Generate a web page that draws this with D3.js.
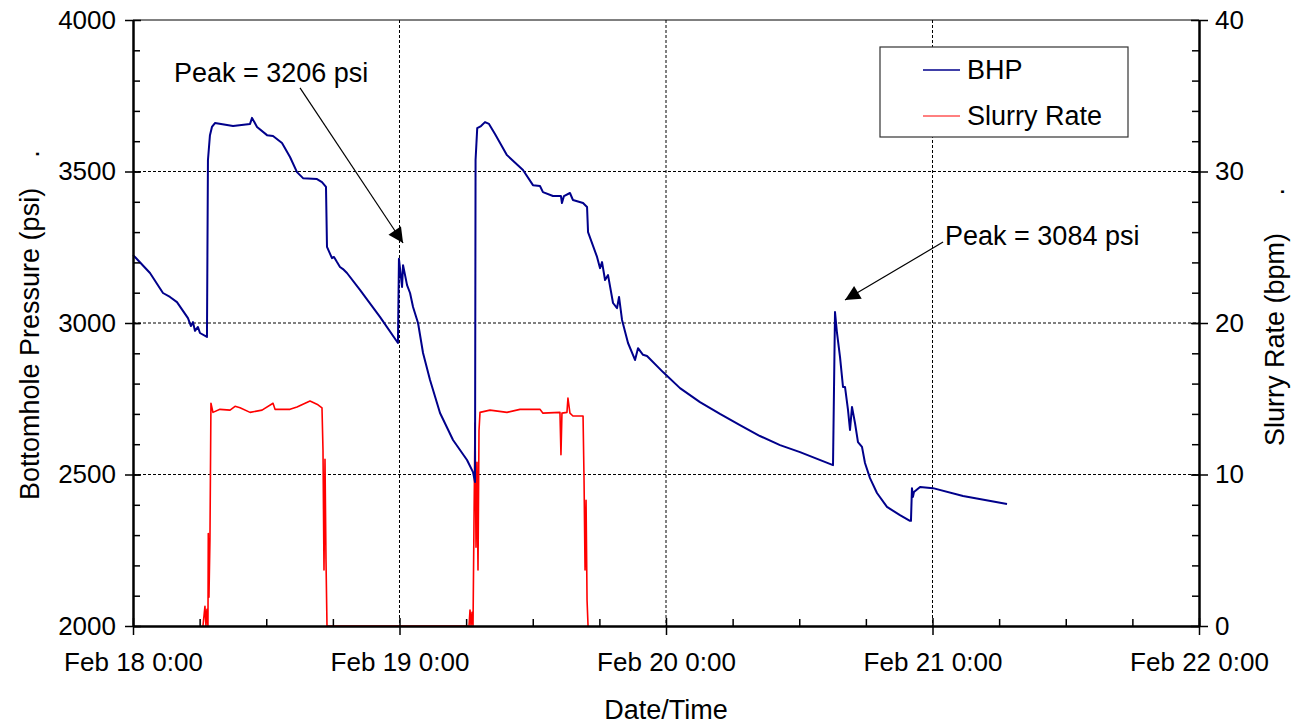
<!DOCTYPE html>
<html lang="en">

<head>
    <meta charset="utf-8" />
    <title>BHP and Slurry Rate</title>
    <script src="https://d3js.org/d3.v7.min.js"></script>
    <style>
        body {
            margin: 0;
            background: #fff;
        }

        text {
            font-family: "Liberation Sans", Arial, sans-serif;
            fill: #000;
        }

        .axis text {
            font-size: 26px;
        }

        .axis path,
        .axis line {
            stroke: #000;
        }

        .grid line {
            stroke: #000;
            stroke-width: 1;
            stroke-dasharray: 3, 2;
        }
    </style>
</head>

<body>
    <script>
        // ---- data (hours after Feb 18 0:00) ----
        const bhpHours = [0.00, 0.18, 1.53, 2.70, 3.33, 3.96, 4.95, 5.22, 5.40, 5.58, 5.85, 6.03, 6.66,
            6.75, 6.93, 7.11, 7.38, 9.01, 10.54, 10.72, 11.17, 12.07, 12.61, 13.42, 14.14, 14.77, 15.31,
            16.57, 17.02, 17.38, 17.47, 17.92, 18.10, 18.37, 18.64, 18.91, 19.27, 20.44, 22.24, 23.86,
            23.95, 24.23, 24.32, 24.68, 24.95, 25.22, 25.67, 26.12, 26.75, 27.65, 28.82, 30.08, 30.62,
            30.80, 30.85, 31.00, 31.34, 31.70, 32.06, 32.60, 33.68, 35.12, 36.02, 36.65, 36.92, 37.82,
            38.54, 38.63, 38.81, 39.35, 39.62, 40.53, 40.89, 40.98, 41.79, 42.06, 42.24, 42.51, 42.78,
            43.23, 43.59, 43.77, 44.04, 44.58, 45.21, 45.48, 45.93, 46.29, 47.73, 49.26, 51.06, 52.86,
            54.66, 56.46, 58.27, 60.07, 63.04, 63.22, 63.40, 63.67, 63.94, 64.12, 64.39, 64.57, 64.75,
            65.02, 65.29, 65.65, 65.92, 66.37, 67.00, 67.90, 69.07, 69.97, 70.06, 70.15, 70.24, 70.33,
            70.88, 72.04, 74.75, 78.71];
        const bhpValues = [3224, 3218, 3165, 3099, 3086, 3069, 3016, 2990, 3003, 2974, 2987, 2967, 2954,
            3538, 3620, 3647, 3660, 3650, 3657, 3677, 3647, 3620, 3617, 3594, 3548, 3498, 3478,
            3475, 3465, 3449, 3251, 3214, 3218, 3201, 3185, 3178, 3165, 3109, 3020, 2934,
            3212, 3119, 3191, 3125, 3099, 3053, 3000, 2901, 2812, 2703, 2614, 2548, 2508,
            2475, 3538, 3643, 3650, 3663, 3657, 3624, 3554, 3505, 3455, 3452, 3432, 3419,
            3419, 3396, 3419, 3429, 3406, 3396, 3383, 3300, 3218, 3181, 3201, 3142, 3158,
            3066, 3049, 3086, 3010, 2934, 2878, 2917, 2895, 2891, 2838, 2785, 2739, 2700,
            2663, 2627, 2597, 2574, 2531, 3036, 2967, 2888, 2789, 2789, 2713, 2647, 2723,
            2670, 2607, 2591, 2538, 2488, 2439, 2393, 2366, 2347, 2347, 2455, 2426, 2442,
            2459, 2455, 2429, 2403];

        const rateHours = [6.30, 6.48, 6.57, 6.66, 6.75, 6.78, 6.84, 6.93, 7.02, 7.20, 7.83, 8.74, 9.19,
            9.64, 10.54, 11.62, 12.61, 12.79, 14.14, 14.77, 15.94, 16.66, 17.02, 17.11, 17.20, 17.29,
            17.38, 17.47, 30.26, 30.35, 30.44, 30.53, 30.62, 30.71, 30.80, 30.89, 30.98, 31.07, 31.16,
            31.25, 32.15, 33.68, 34.85, 36.65, 36.92, 38.45, 38.54, 38.63, 39.08, 39.17, 39.35, 39.62,
            40.53, 40.62, 40.71, 40.80, 40.89, 40.98];
        const rateValues = [0, 1.3, 0, 1.1, 0, 6.1, 1.9, 5.7, 14.7, 14.1, 14.3, 14.25, 14.5,
            14.4, 14.1, 14.25, 14.7, 14.3, 14.3, 14.45, 14.85, 14.6, 14.4, 11.6, 3.7, 11.0,
            4.4, 0, 0, 1.05, 0, 0.9, 0, 7.0, 13.4, 5.2, 10.8, 3.7, 12.9,
            14.1, 14.25, 14.1, 14.3, 14.3, 14.05, 14.1, 11.3, 14.05, 14.1, 15.05, 14.05, 13.86,
            13.86, 9.6, 3.7, 8.3, 1.7, 0];

        const startDate = new Date(Date.UTC(2003, 1, 18, 0, 0));
        const endDate = new Date(Date.UTC(2003, 1, 22, 0, 0));
        const pressureTicks = [2000, 2500, 3000, 3500, 4000];
        const rateTicks = [0, 10, 20, 30, 40];
        const seriesNames = ["BHP", "Slurry Rate"];
        const seriesColors = ["#00008b", "#ff0000"];
        // annotation: text anchor, arrow tail and arrow tip, in hours / psi
        const notes = [
            { label: "Peak = 3206 psi", text: [3.69, 3795], tail: [15.04, 3776], tip: [24.32, 3264] },
            { label: "Peak = 3084 psi", text: [73.13, 3257], tail: [72.95, 3267], tip: [64.12, 3076] }
        ];

        // ---- layout ----
        const W = 1297, H = 728;
        const margin = { top: 20, right: 98, bottom: 102, left: 133 };
        const width = W - margin.left - margin.right;
        const height = H - margin.top - margin.bottom;

        const svg = d3.select("body").append("svg").attr("width", W).attr("height", H);
        const g = svg.append("g").attr("transform", `translate(${margin.left},${margin.top})`);

        const toDate = (h) => new Date(startDate.getTime() + h * 3600e3);
        const bhp = bhpHours.map((h, i) => ({ t: toDate(h), v: bhpValues[i] }));
        const rate = rateHours.map((h, i) => ({ t: toDate(h), v: rateValues[i] }));

        const x = d3.scaleUtc().domain([startDate, endDate]).range([0, width]);
        const yP = d3.scaleLinear().domain([2000, 4000]).range([height, 0]);
        const yR = d3.scaleLinear().domain([0, 40]).range([height, 0]);

        const dayTicks = d3.utcDay.range(startDate, d3.utcDay.offset(endDate, 1));
        const quarterTicks = d3.utcHour.every(6).range(startDate, endDate).filter((d) => d.getUTCHours() !== 0);
        const fmt = d3.utcFormat("%b %-d %-H:%M");

        // grid
        const grid = g.append("g").attr("class", "grid");
        grid.selectAll("line.h").data(pressureTicks.slice(1, -1)).join("line")
            .attr("x1", 0).attr("x2", width).attr("y1", (d) => yP(d)).attr("y2", (d) => yP(d));
        grid.selectAll("line.v").data(dayTicks.slice(1, -1)).join("line").attr("class", "v")
            .attr("y1", 0).attr("y2", height).attr("x1", (d) => x(d)).attr("x2", (d) => x(d));

        // top frame line
        g.append("line").attr("x1", 0).attr("x2", width).attr("y1", 0).attr("y2", 0)
            .attr("stroke", "#000").attr("stroke-width", 1);

        // series
        const lineP = d3.line().x((d) => x(d.t)).y((d) => yP(d.v));
        const lineR = d3.line().x((d) => x(d.t)).y((d) => yR(d.v));
        g.append("path").datum(rate).attr("d", lineR).attr("fill", "none")
            .attr("stroke", seriesColors[1]).attr("stroke-width", 1.6).attr("stroke-linejoin", "round");
        g.append("path").datum(bhp).attr("d", lineP).attr("fill", "none")
            .attr("stroke", seriesColors[0]).attr("stroke-width", 2).attr("stroke-linejoin", "round");

        // axes: outer labelled ticks, inner ticks, minor ticks
        function styleAxis(sel, w) {
            sel.selectAll("path").attr("stroke-width", w);
            sel.selectAll("line").attr("stroke-width", 1.5);
        }
        const gxl = g.append("g").attr("class", "axis").attr("transform", `translate(0,${height})`)
            .call(d3.axisBottom(x).tickValues(dayTicks).tickFormat(fmt).tickSize(9).tickSizeOuter(0).tickPadding(18));
        styleAxis(gxl, 2.5);
        g.append("g").attr("class", "axis").attr("transform", `translate(0,${height})`)
            .call(d3.axisTop(x).tickValues(dayTicks).tickFormat("").tickSize(8).tickSizeOuter(0))
            .call((s) => s.select("path").remove()).call((s) => styleAxis(s, 2));
        g.append("g").attr("class", "axis").attr("transform", `translate(0,${height})`)
            .call(d3.axisTop(x).tickValues(quarterTicks).tickFormat("").tickSize(7).tickSizeOuter(0))
            .call((s) => s.select("path").remove()).call((s) => styleAxis(s, 2));

        const gyl = g.append("g").attr("class", "axis")
            .call(d3.axisLeft(yP).tickValues(pressureTicks).tickFormat(d3.format("d"))
                .tickSize(8).tickSizeOuter(0).tickPadding(9));
        styleAxis(gyl, 2.5);
        g.append("g").attr("class", "axis")
            .call(d3.axisRight(yP).tickValues(pressureTicks).tickFormat("").tickSize(8).tickSizeOuter(0))
            .call((s) => s.select("path").remove()).call((s) => styleAxis(s, 2));
        g.append("g").attr("class", "axis")
            .call(d3.axisRight(yP).tickValues(d3.range(2100, 4000, 100)).tickFormat("").tickSize(7).tickSizeOuter(0))
            .call((s) => s.select("path").remove()).call((s) => styleAxis(s, 2));

        const gyr = g.append("g").attr("class", "axis").attr("transform", `translate(${width},0)`)
            .call(d3.axisRight(yR).tickValues(rateTicks).tickSize(9).tickSizeOuter(0).tickPadding(7));
        styleAxis(gyr, 2.5);
        g.append("g").attr("class", "axis").attr("transform", `translate(${width},0)`)
            .call(d3.axisLeft(yR).tickValues(rateTicks).tickFormat("").tickSize(8).tickSizeOuter(0))
            .call((s) => s.select("path").remove()).call((s) => styleAxis(s, 2));
        g.append("g").attr("class", "axis").attr("transform", `translate(${width},0)`)
            .call(d3.axisLeft(yR).tickValues(d3.range(2, 40, 2)).tickFormat("").tickSize(7).tickSizeOuter(0))
            .call((s) => s.select("path").remove()).call((s) => styleAxis(s, 2));

        // axis titles
        svg.append("text").attr("transform", `translate(${margin.left + width / 2},719)`)
            .attr("text-anchor", "middle").style("font-size", "27px").text("Date/Time");
        svg.append("text").attr("transform", "translate(39,500) rotate(-90)")
            .style("font-size", "27px").style("white-space", "pre")
            .text("Bottomhole Pressure (psi)    .");
        svg.append("text").attr("transform", "translate(1284,446) rotate(-90)")
            .style("font-size", "27px").style("white-space", "pre")
            .text("Slurry Rate (bpm)     .");

        // annotations with arrows
        svg.append("defs").append("marker").attr("id", "head")
            .attr("viewBox", "0 0 10 10").attr("refX", 10).attr("refY", 5)
            .attr("markerWidth", 20).attr("markerHeight", 15).attr("markerUnits", "userSpaceOnUse")
            .attr("orient", "auto")
            .append("path").attr("d", "M0,0 L10,5 L0,10 Z").attr("fill", "#000");

        const ann = g.append("g");
        notes.forEach((n) => {
            ann.append("text").attr("x", x(toDate(n.text[0]))).attr("y", yP(n.text[1]))
                .style("font-size", "27px").text(n.label);
            ann.append("line")
                .attr("x1", x(toDate(n.tail[0]))).attr("y1", yP(n.tail[1]))
                .attr("x2", x(toDate(n.tip[0]))).attr("y2", yP(n.tip[1]))
                .attr("stroke", "#000").attr("stroke-width", 1.2).attr("marker-end", "url(#head)");
        });

        // legend
        const leg = svg.append("g").attr("transform", "translate(880,47)");
        leg.append("rect").attr("width", 248).attr("height", 90).attr("fill", "#fff")
            .attr("stroke", "#333").attr("stroke-width", 1.2);
        seriesNames.forEach((name, i) => {
            const row = leg.append("g").attr("transform", `translate(0,${23 + i * 46})`);
            row.append("line").attr("x1", 43).attr("x2", 80).attr("y1", 0).attr("y2", 0)
                .attr("stroke", seriesColors[i]).attr("stroke-width", i === 0 ? 1.5 : 1);
            row.append("text").attr("x", 87).attr("y", 9).style("font-size", "27px").text(name);
        });
    </script>
</body>

</html>
